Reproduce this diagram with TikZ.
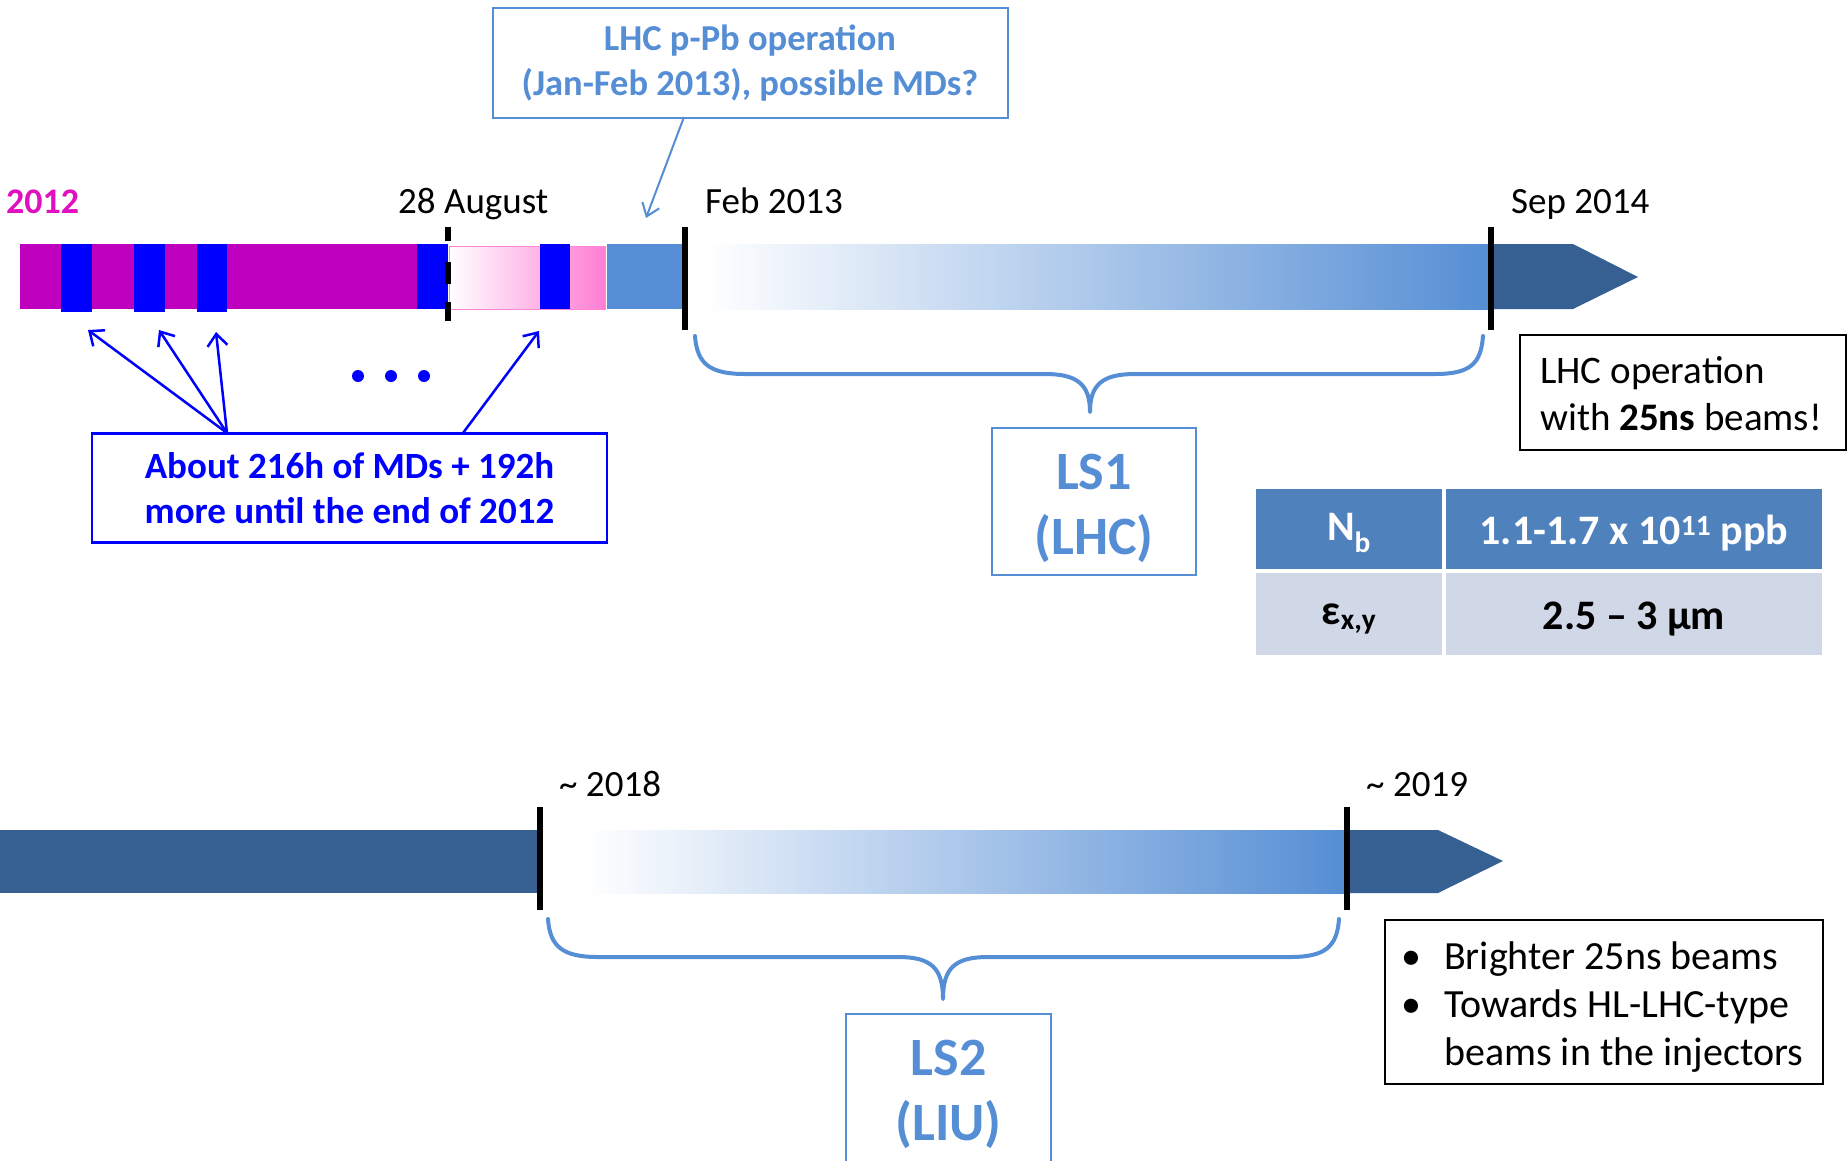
\documentclass[tikz,border=0pt]{standalone}
\usepackage{fontspec}
\setmainfont{Carlito}
\usetikzlibrary{arrows.meta}
\definecolor{lblue}{HTML}{558ED5}
\definecolor{darkb}{HTML}{376092}
\definecolor{mag}{HTML}{BF00BF}
\definecolor{magtxt}{HTML}{E010C0}
\definecolor{pinkc}{HTML}{FF66CC}
\definecolor{hdr}{HTML}{4F81BD}
\definecolor{rowc}{HTML}{D0D8E8}
\definecolor{pureblue}{HTML}{0000FF}
\begin{document}
\begin{tikzpicture}[x=1pt,y=-1pt,
  lbl/.style={font=\fontsize{37}{45}\selectfont, anchor=base west, inner sep=0pt},
  tickline/.style={line width=6pt, black},
  stripe/.style={fill=pureblue},
  bracestyle/.style={draw=lblue, line width=4pt, line cap=round, line join=round},
  bluearrow/.style={draw=pureblue, line width=2.5pt, -{Straight Barb[length=12pt,width=20pt,line width=2.5pt]}},
  callarrow/.style={draw=lblue, line width=2pt, -{Straight Barb[length=12pt,width=18pt,line width=2pt]}},
  lsbox/.style={draw=lblue, line width=2pt, fill=white},
  lstext/.style={text=lblue, align=center, inner sep=0pt, font=\fontsize{54}{65}\selectfont\bfseries},
  cell/.style={minimum height=80pt, inner sep=0pt},
  celltext/.style={inner sep=0pt, font=\fontsize{42}{50}\selectfont\bfseries}
]
\useasboundingbox (0,0) rectangle (1848,1160);
\clip (0,0) rectangle (1848,1160);
\fill[white] (0,0) rectangle (1848,1160);

% ---------- top timeline ----------
\fill[mag] (20,244) rectangle (448,309);
\fill[stripe] (61,244) rectangle (92,312);
\fill[stripe] (134,244) rectangle (165,312);
\fill[stripe] (197,244) rectangle (227,312);
\fill[stripe] (417,244) rectangle (448,309);
\shade[left color=white, right color=pinkc!85, draw=pinkc!80, line width=1pt] (449,246) rectangle (605,309);
\fill[stripe] (540,244) rectangle (570,309);
\fill[lblue] (607,244) rectangle (685,309);
\shade[left color=white, right color=lblue] (705,244) rectangle (1491,309);
\fill[darkb] (1491,244) -- (1573,244) -- (1638,277) -- (1573,309) -- (1491,309) -- cycle;

% ticks
\draw[tickline] (448,227) -- (448,241);
\draw[tickline] (448,262) -- (448,284);
\draw[tickline] (448,302) -- (448,321);
\draw[tickline] (685,227) -- (685,330);
\draw[tickline] (1491,227) -- (1491,330);

% labels
\node[lbl, text=magtxt, font=\fontsize{36}{44}\selectfont\bfseries] (y2012) at (6,213) {2012};
\node[lbl] (aug) at (398,213) {28 August};
\node[lbl] (feb) at (705,213) {Feb 2013};
\node[lbl] (sep) at (1511,213) {Sep 2014};

% callout
\node[draw=lblue, line width=2pt, minimum width=515pt, minimum height=110pt, align=center,
  text=lblue, font=\fontsize{36.5}{45}\selectfont\bfseries] (pPb) at (750,63)
  {LHC p-Pb operation\\(Jan-Feb 2013), possible MDs?};
\coordinate (pPbtail) at (684,117);
\coordinate (pPbtip) at (646,218);
\draw[callarrow] (pPbtail) -- (pPbtip);

% MD box
\node[draw=pureblue, line width=2.5pt, minimum width=515pt, minimum height=109pt, align=center,
  text=pureblue, font=\fontsize{37}{45}\selectfont\bfseries] (md) at (349.5,488)
  {About 216h of MDs + 192h\\more until the end of 2012};
\coordinate (s1) at (227,433);
\coordinate (s2) at (463,433);
\coordinate (t1) at (88,330);
\coordinate (t2) at (159,330);
\coordinate (t3) at (216,332);
\coordinate (t4) at (539,331);
\draw[bluearrow] (s1) -- (t1);
\draw[bluearrow] (s1) -- (t2);
\draw[bluearrow] (s1) -- (t3);
\draw[bluearrow] (s2) -- (t4);
\fill[pureblue] (358,376) circle (6);
\fill[pureblue] (391,376) circle (6);
\fill[pureblue] (424,376) circle (6);

% LS1 brace
\coordinate (b1l) at (695,336);
\coordinate (b1t) at (1090,412);
\coordinate (b1r) at (1483,336);
\draw[bracestyle] (b1l) .. controls (697,364) and (710,374) .. (745,374) -- (1045,374)
  .. controls (1078,374) and (1090,385) .. (b1t)
  .. controls (1090,385) and (1102,374) .. (1135,374) -- (1435,374)
  .. controls (1470,374) and (1481,364) .. (b1r);
\node[lsbox, minimum width=204pt, minimum height=147pt] (ls1) at (1094,501.5) {};
\node[lstext] (ls1t) at (1094,508) {LS1\\(LHC)};

% LHC operation box
\node[draw=black, line width=2pt, minimum width=326pt, minimum height=115pt] (op) at (1683,392.5) {};
\node[anchor=west, inner sep=0pt, align=left, font=\fontsize{39}{47}\selectfont] (opt) at (1540,394)
  {LHC operation\\with \textbf{25ns} beams!};

% table
\node[cell, fill=hdr, minimum width=186pt] (c11) at (1349,529) {};
\node[cell, fill=hdr, minimum width=376pt] (c12) at (1634,529) {};
\node[cell, fill=rowc, minimum width=186pt, minimum height=82pt] (c21) at (1349,614) {};
\node[cell, fill=rowc, minimum width=376pt, minimum height=82pt] (c22) at (1634,614) {};
\node[celltext, text=white] (c11t) at (1349,533) {N\textsubscript{b}};
\node[celltext, text=white] (c12t) at (1634,533) {1.1-1.7 x 10\textsuperscript{11} ppb};
\node[celltext, text=black] (c21t) at (1349,619) {ε\textsubscript{x,y}};
\node[celltext, text=black] (c22t) at (1634,619) {2.5 – 3 μm};

% ---------- bottom timeline ----------
\fill[darkb] (0,830) rectangle (540,893);
\shade[left color=white, right color=lblue] (585,830) rectangle (1347,893);
\fill[darkb] (1347,830) -- (1438,830) -- (1503,861) -- (1438,893) -- (1347,893) -- cycle;
\draw[tickline] (540,807) -- (540,910);
\draw[tickline] (1347,807) -- (1347,910);
\node[lbl] (y2018) at (559,796) {\~{} 2018};
\node[lbl] (y2019) at (1366,796) {\~{} 2019};

% LS2 brace
\coordinate (b2l) at (548,919);
\coordinate (b2t) at (943,999);
\coordinate (b2r) at (1339,919);
\draw[bracestyle] (b2l) .. controls (550,947) and (563,957) .. (598,957) -- (898,957)
  .. controls (931,957) and (943,968) .. (b2t)
  .. controls (943,968) and (955,957) .. (988,957) -- (1290,957)
  .. controls (1325,957) and (1337,947) .. (b2r);
\node[lsbox, minimum width=205pt, minimum height=170pt, anchor=north] (ls2) at (948.5,1013) {};
\node[lstext] (ls2t) at (948.5,1094) {LS2\\(LIU)};

% bullets box
\node[draw=black, line width=2pt, minimum width=438pt, minimum height=164pt] (bul) at (1604,1002) {};
\node[anchor=west, inner sep=0pt, align=left, font=\fontsize{40}{48}\selectfont] (bult) at (1401,1007)
  {\makebox[43pt][l]{•}Brighter 25ns beams\\
   \makebox[43pt][l]{•}Towards HL-LHC-type\\
   \makebox[43pt][l]{}beams in the injectors};
\end{tikzpicture}
\end{document}
